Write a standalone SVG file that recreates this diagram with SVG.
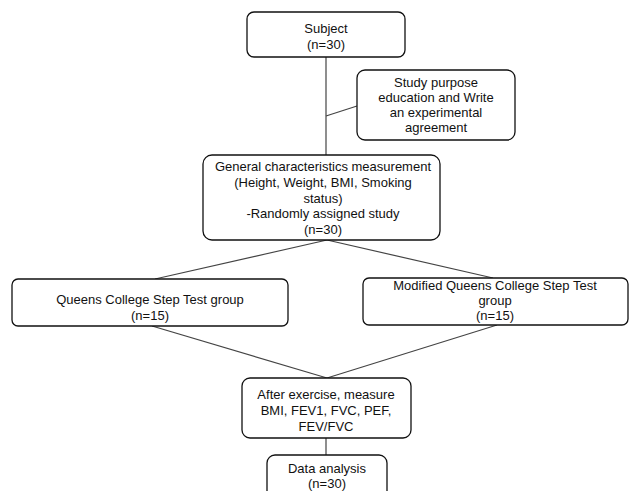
<svg xmlns="http://www.w3.org/2000/svg" width="631" height="491" viewBox="0 0 631 491">
<style>
.box{fill:#fff;stroke:#111;stroke-width:1.3}
.t{font-family:"Liberation Sans","Noto Sans",sans-serif;font-size:13px;fill:#111;text-anchor:middle}
.c{stroke:#444;stroke-width:1.2;fill:none}
</style>
<rect width="631" height="491" fill="#fff"/>
<g id="connectors">
<line class="c" x1="326" y1="57" x2="326" y2="155"/>
<line class="c" x1="326" y1="116" x2="357" y2="106"/>
<line class="c" x1="327" y1="240" x2="155" y2="279"/>
<line class="c" x1="327" y1="240" x2="493" y2="278"/>
<line class="c" x1="152" y1="326" x2="327" y2="378"/>
<line class="c" x1="497" y1="325" x2="327" y2="378"/>
<line class="c" x1="326" y1="438" x2="326" y2="455"/>
</g>
<g id="subject">
<rect class="box" x="247" y="12" width="158" height="45" rx="7"/>
<text class="t" x="326" y="33">Subject</text>
<text class="t" x="326" y="49">(n=30)</text>
</g>
<g id="study">
<rect class="box" x="357" y="70" width="158" height="70" rx="8"/>
<text class="t" x="436" y="87">Study purpose</text>
<text class="t" x="436" y="102">education and Write</text>
<text class="t" x="436" y="117">an experimental</text>
<text class="t" x="436" y="132">agreement</text>
</g>
<g id="general">
<rect class="box" x="203" y="155" width="237" height="85" rx="9"/>
<text class="t" x="323" y="171">General characteristics measurement</text>
<text class="t" x="323" y="187">(Height, Weight, BMI, Smoking</text>
<text class="t" x="323" y="203">status)</text>
<text class="t" x="323" y="218">-Randomly assigned study</text>
<text class="t" x="323" y="234">(n=30)</text>
</g>
<g id="queens">
<rect class="box" x="12" y="279" width="276" height="47" rx="6"/>
<text class="t" x="150" y="304">Queens College Step Test group</text>
<text class="t" x="150" y="320">(n=15)</text>
</g>
<g id="modified">
<rect class="box" x="363" y="278" width="265" height="47" rx="6"/>
<text class="t" x="495" y="290">Modified Queens College Step Test</text>
<text class="t" x="495" y="305">group</text>
<text class="t" x="495" y="320">(n=15)</text>
</g>
<g id="after">
<rect class="box" x="242" y="378" width="169" height="60" rx="8"/>
<text class="t" x="326" y="399">After exercise, measure</text>
<text class="t" x="326" y="415">BMI, FEV1, FVC, PEF,</text>
<text class="t" x="326" y="431">FEV/FVC</text>
</g>
<g id="data">
<rect class="box" x="267" y="455" width="120" height="50" rx="8"/>
<text class="t" x="327" y="473">Data analysis</text>
<text class="t" x="327" y="488">(n=30)</text>
</g>
</svg>
